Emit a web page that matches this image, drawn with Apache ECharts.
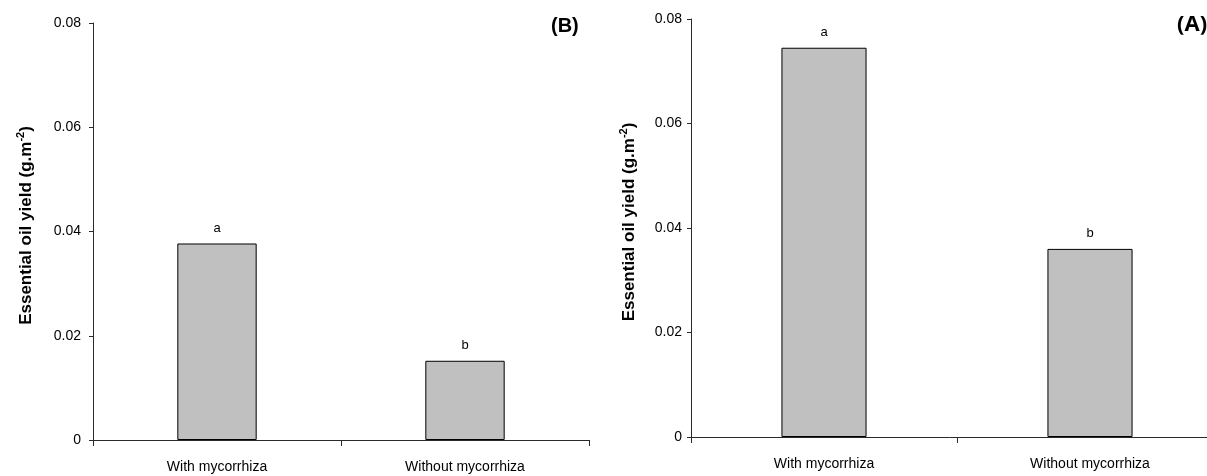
<!DOCTYPE html>
<html><head><meta charset="utf-8">
<script src="https://cdn.jsdelivr.net/npm/echarts@6/dist/echarts.min.js"></script>
<style>html,body{margin:0;padding:0;background:#fff}#c{width:1207px;height:476px}</style>
</head><body><div id="c"></div>
<script>
const categories = ['With mycorrhiza', 'Without mycorrhiza'];
const valuesB = [0.0377, 0.0152];
const valuesA = [0.0745, 0.0360];
const lettersB = ['a', 'b'];
const lettersA = ['a', 'b'];
const panelTitles = ['(B)', '(A)'];
const yAxisName = 'Essential oil yield (g.m{sup|-2})';
const yMin = 0, yMax = 0.08, yStep = 0.02;

const FONT = '"Liberation Sans", Arial, sans-serif';
const AXIS_COLOR = '#2a2a2a';

function xAxis(gridIndex) {
  return {
    type: 'category', gridIndex, data: categories,
    axisLine: { lineStyle: { color: AXIS_COLOR, width: 1 } },
    axisTick: { show: true, length: 6, lineStyle: { color: AXIS_COLOR } },
    axisLabel: { interval: 0, color: '#000', fontFamily: FONT, fontSize: 14, margin: 20 }
  };
}
function yAxis(gridIndex, gap, margin) {
  return {
    type: 'value', gridIndex, min: yMin, max: yMax, interval: yStep,
    name: yAxisName, nameLocation: 'middle', nameGap: gap,
    nameTextStyle: {
      fontFamily: FONT, fontSize: 17, fontWeight: 'bold', color: '#000',
      padding: [0, 0, 0, 12],
      rich: { sup: { fontFamily: FONT, fontSize: 11, fontWeight: 'bold', color: '#000', padding: [0, 0, 11, 0] } }
    },
    axisLine: { show: true, lineStyle: { color: AXIS_COLOR, width: 1 } },
    axisTick: { show: true, length: 4, lineStyle: { color: AXIS_COLOR } },
    splitLine: { show: false },
    axisLabel: { color: '#000', fontFamily: FONT, fontSize: 14, margin: margin }
  };
}
function barSeries(idx, values, letters) {
  return {
    type: 'bar', xAxisIndex: idx, yAxisIndex: idx, barWidth: '32%',
    data: values,
    itemStyle: { color: '#c0c0c0', borderColor: '#000', borderWidth: 1 },
    label: {
      show: true, position: 'top', distance: 9, color: '#000', fontFamily: FONT, fontSize: 13,
      formatter: p => letters[p.dataIndex]
    },
    silent: true
  };
}

const chart = echarts.init(document.getElementById('c'), null, { renderer: 'canvas' });
chart.setOption({
  animation: false,
  backgroundColor: '#fff',
  grid: [
    { left: 93, top: 23, width: 496, height: 417, outerBoundsMode: 'none', containLabel: false },
    { left: 691, top: 19, width: 532, height: 418, outerBoundsMode: 'none', containLabel: false }
  ],
  xAxis: [xAxis(0), xAxis(1)],
  yAxis: [yAxis(0, 56, 12), yAxis(1, 51, 9)],
  series: [barSeries(0, valuesB, lettersB), barSeries(1, valuesA, lettersA)],
  title: [
    { text: panelTitles[0], left: 551, top: 16, padding: 0,
      textStyle: { fontFamily: FONT, fontSize: 20, fontWeight: 'bold', color: '#000' } },
    { text: panelTitles[1], left: 1177, top: 14, padding: 0,
      textStyle: { fontFamily: '"Open Sans", "DejaVu Sans", sans-serif', fontSize: 22, fontWeight: 'bold', color: '#000' } }
  ]
});
</script></body></html>
